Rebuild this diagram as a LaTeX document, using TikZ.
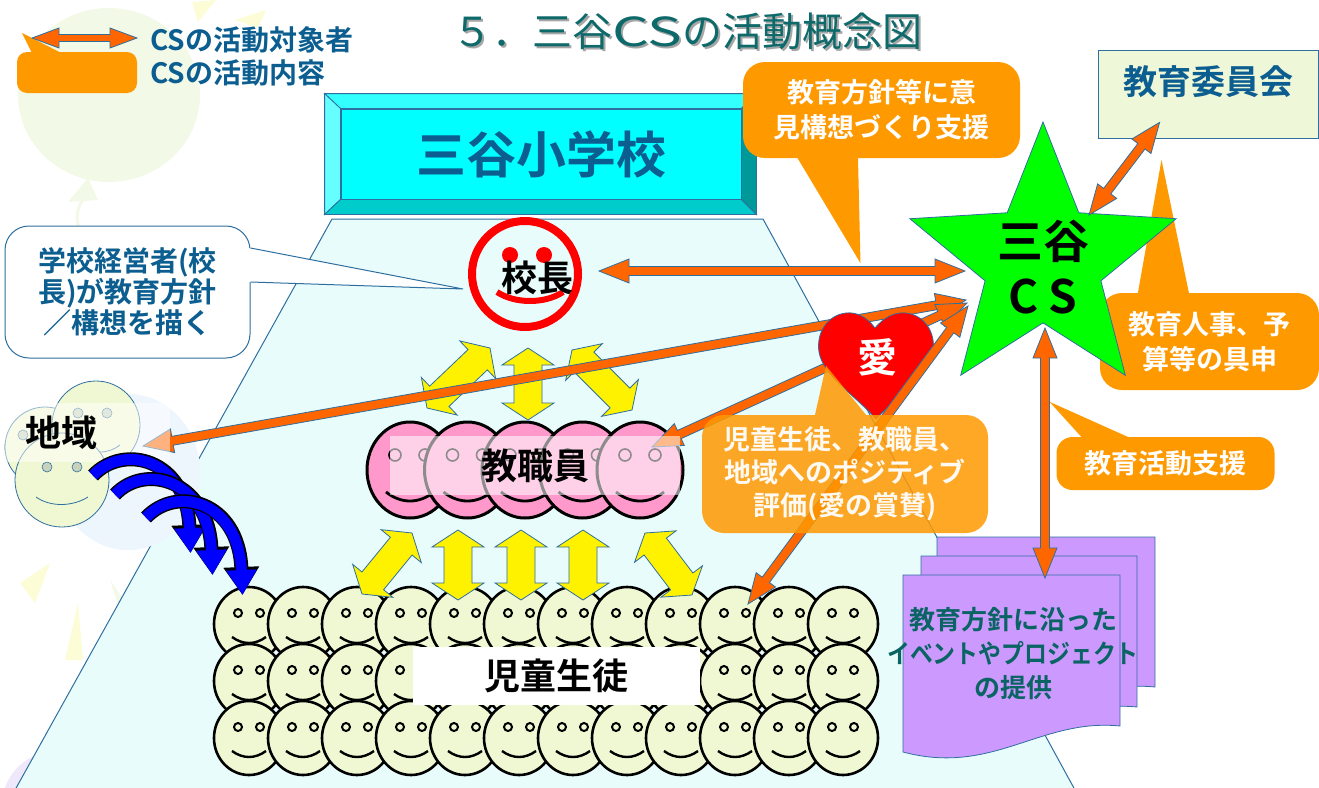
\documentclass[tikz,border=0pt]{standalone}
\usepackage{fontspec}
\setmainfont{Noto Sans CJK JP}[BoldFont={Noto Sans CJK JP Bold}]
\usetikzlibrary{arrows.meta,positioning,calc,shapes.geometric}
\definecolor{csorange}{HTML}{FF6600}
\definecolor{calloutorange}{HTML}{FF9900}
\definecolor{edgeblue}{HTML}{2E6FA0}
\definecolor{inkblue}{HTML}{0B5E8F}
\definecolor{titleteal}{HTML}{0E6A6A}
\definecolor{docteal}{HTML}{0B6464}
\definecolor{floorcyan}{HTML}{E8FCFC}
\definecolor{platecyan}{HTML}{00FFFF}
\definecolor{facegreen}{HTML}{EFF8D2}
\definecolor{facepink}{HTML}{FF99CC}
\definecolor{docviolet}{HTML}{CC99FF}
\definecolor{boardgreen}{HTML}{EEF7D8}
\definecolor{eyegrey}{HTML}{C8D2BC}
\definecolor{paleyellow}{HTML}{FCFCD6}
\definecolor{palegreen}{HTML}{F3F9E7}
\definecolor{palepurple}{HTML}{EEE8FA}
\definecolor{haloblue}{HTML}{EDF5FD}
\tikzset{
  jp/.style 2 args={font=\fontsize{#1}{#2}\selectfont\bfseries, inner sep=0pt},
  blueedge/.style={draw=edgeblue, line width=0.8pt},
  orangearrow/.style={fill=csorange, blueedge, line join=miter},
  yellowarrow/.style={fill=yellow, blueedge},
  orangenote/.style={fill=calloutorange, rounded corners=22pt, text=white, align=center, jp={27}{35}},
  legendtext/.style={text=inkblue, jp={28}{28}, anchor=west},
  docpage/.style={fill=docviolet, blueedge},
  pupil/.pic={
    \draw[fill=facegreen, line width=2.6pt] (0,0) ellipse [x radius=35pt, y radius=37pt];
    \draw[fill=facegreen, line width=2pt] (-11,-11) circle [radius=4pt] (11,-11) circle [radius=4pt];
    \draw[line width=2.4pt] (-17,13) .. controls (-6,21) and (6,21) .. (17,13);
  },
  teacher/.pic={
    \draw[fill=facepink, line width=3pt] (0,0) ellipse [x radius=43pt, y radius=48pt];
    \draw[fill=facepink, line width=1.6pt] (-15,-15) circle [radius=6pt] (15,-15) circle [radius=6pt];
    \draw[line width=2.8pt] (-24,22) .. controls (-9,34) and (9,34) .. (24,22);
  }
}
% block arrow with a head at each end: [style]{from}{to}{shaft half}{head half}{head length}
\newcommand{\fatarrow}[6][]{%
  \coordinate (fa1) at (#2);
  \coordinate (fa2) at (#3);
  \coordinate (fh1) at ($(fa1)!#6!(fa2)$);
  \coordinate (fh2) at ($(fa2)!#6!(fa1)$);
  \draw[#1] (fa1) -- ($(fh1)!#5!90:(fa2)$) -- ($(fh1)!#4!90:(fa2)$)
    -- ($(fh2)!#4!-90:(fa1)$) -- ($(fh2)!#5!-90:(fa1)$) -- (fa2)
    -- ($(fh2)!#5!90:(fa1)$) -- ($(fh2)!#4!90:(fa1)$)
    -- ($(fh1)!#4!-90:(fa2)$) -- ($(fh1)!#5!-90:(fa2)$) -- cycle;
}
\newcommand{\orangelink}[2]{\fatarrow[orangearrow]{#1}{#2}{4.5pt}{12pt}{30pt}}
\newcommand{\yellowlink}[2]{\fatarrow[yellowarrow]{#1}{#2}{14pt}{26pt}{17pt}}

\begin{document}
\begin{tikzpicture}[x=1pt, y=-1pt]
  \useasboundingbox (0,0) rectangle (1319,787);
  \clip (0,0) rectangle (1319,787);

  % faint clip-art in the back
  \fill[palegreen] (109,95) ellipse [x radius=91pt, y radius=87pt];
  \fill[palegreen] (88,178) -- (68,202) -- (98,200) -- cycle;
  \draw[palegreen, line width=3pt] (84,198) .. controls (72,215) and (78,228) .. (84,240);
  \fill[paleyellow] (192,2) -- (216,0) -- (198,22) -- cycle;
  \fill[paleyellow] (235,20) -- (266,10) -- (258,28) -- cycle;
  \fill[paleyellow] (20,583) -- (50,563) -- (35,603) -- cycle;
  \fill[paleyellow] (65,660) -- (78,603) -- (83,660) -- cycle;
  \fill[palegreen] (110,580) -- (140,623) -- (127,633) -- cycle;
  \fill[palepurple] (60,805) ellipse [x radius=58pt, y radius=55pt];

  % school floor
  \fill[floorcyan] (332,219) -- (763,219) -- (1075,790) -- (15,790) -- cycle;
  \draw[edgeblue, line width=1pt] (15,790) -- (332,219) -- (763,219) -- (1075,790);

  % school name plate
  \node[blueedge, fill=platecyan, minimum width=400pt, minimum height=90pt,
    text=inkblue, jp={50}{50}] (school) at (541,154) {三谷小学校};
  \filldraw[fill={rgb,255:red,51;green,255;blue,255}, blueedge]
    ($(school.north west)+(-16,-15)$) -- ($(school.north east)+(15,-15)$)
    -- (school.north east) -- (school.north west) -- cycle;
  \filldraw[fill={rgb,255:red,102;green,255;blue,255}, blueedge]
    ($(school.north west)+(-16,-15)$) -- (school.north west)
    -- (school.south west) -- ($(school.south west)+(-16,15)$) -- cycle;
  \filldraw[fill={rgb,255:red,0;green,204;blue,204}, blueedge]
    (school.south west) -- (school.south east)
    -- ($(school.south east)+(15,15)$) -- ($(school.south west)+(-16,15)$) -- cycle;
  \filldraw[fill={rgb,255:red,0;green,153;blue,153}, blueedge]
    (school.north east) -- ($(school.north east)+(15,-15)$)
    -- ($(school.south east)+(15,15)$) -- (school.south east) -- cycle;

  % principal
  \node[circle, draw=red, line width=8pt, minimum size=106pt, inner sep=0pt] (kocho) at (525,274) {};
  \fill[red] ($(kocho)+(-15,-19)$) circle [radius=8pt] ($(kocho)+(19,-19)$) circle [radius=8pt];
  \draw[red, line width=6pt] ($(kocho)+(-28,18)$) .. controls +(18,12) and +(-18,12) .. ($(kocho)+(38,18)$);
  \node[jp={36}{36}] at ($(kocho)+(12,4)$) {校長};

  % speech bubble of the principal
  \coordinate (visiontip) at ($(kocho)+(-62,15)$);
  \node[blueedge, line width=1pt, fill=white, rounded corners=24pt, minimum width=245pt,
    minimum height=132pt, text=inkblue, align=center, jp={28}{31}] (vision) at (127.5,292)
    {学校経営者(校\\長)が教育方針\\／構想を描く};
  \fill[white] ([xshift=-2pt,yshift=44pt]vision.east) -- (visiontip) -- ([xshift=-2pt,yshift=10pt]vision.east) -- cycle;
  \draw[edgeblue, line width=1pt] ([yshift=44pt]vision.east) -- (visiontip) -- ([yshift=10pt]vision.east);

  % bubble above the principal arrow
  \node[orangenote, minimum width=277pt, minimum height=96pt] (policy) at (881.5,110)
    {教育方針等に意\\見構想づくり支援};
  \coordinate (policytip) at ($(policy.south)+(-21,105)$);
  \fill[calloutorange] ($(policy.south west)+(50,-8)$) -- ($(policy.south west)+(115,-8)$) -- (policytip) -- cycle;

  % local community
  \coordinate (regionmid) at (87.5,432.5);
  \fill[haloblue] (128,472) ellipse [x radius=72pt, y radius=78pt];
  \filldraw[fill=facegreen, blueedge] (45,447) circle [radius=40pt];
  \filldraw[fill=facegreen, blueedge] (96,425) circle [radius=44pt];
  \filldraw[fill=facegreen, blueedge] (62,480) circle [radius=47pt];
  \filldraw[fill=eyegrey, draw=edgeblue, line width=0.6pt] (78,413) circle [radius=5pt] (107,413) circle [radius=5pt]
    (23,435) circle [radius=5pt] (47,467) circle [radius=5pt] (77,467) circle [radius=5pt];
  \draw[edgeblue, line width=0.8pt] (36,497) .. controls (50,507) and (72,507) .. (88,497);
  \draw[edgeblue, line width=0.8pt] (100,452) .. controls (108,452) and (115,449) .. (120,445);

  % teachers
  \foreach \c in {0,...,4} \pic at ({410+57.5*\c},470) {teacher};

  % pupils
  \foreach \r in {0,1,2}{
    \foreach \c in {0,...,11} \pic at ({249+54*\c},{624+57*\r}) {pupil};
  }
  \node[fill=white, minimum width=287pt, minimum height=58pt, jp={36}{36}] (pupils) at (556.5,676) {児童生徒};

  % links among school members
  \coordinate (staff) at (535,465.5);
  \foreach \ax/\ay/\bx/\by in {-45/-117.5/-108/-57.5, -7/-117.5/-7/-45.5, 37/-115.5/97/-55.5,
      -123/67.5/-173/128.5, -77/64.5/-77/134.5, -14/64.5/-14/134.5, 48/64.5/48/134.5, 110/67.5/157/129.5}
    \yellowlink{$(staff)+(\ax,\ay)$}{$(staff)+(\bx,\by)$};

  % board of education
  \node[blueedge, fill=boardgreen, minimum width=220pt, minimum height=88pt, inner sep=0pt] (board) at (1208,94) {};
  \node[text=inkblue, jp={34}{34}, below=16pt of board.north] {教育委員会};

  % bubbles on the right
  \node[orangenote, minimum width=219pt, minimum height=97pt] (finance) at (1209.5,341.5)
    {教育人事、予\\算等の具申};
  \fill[calloutorange] ($(finance.north)+(-73,8)$) -- ($(finance.north)+(-48,-133)$) -- ($(finance.north)+(-19,8)$) -- cycle;
  \node[orangenote, rounded corners=16pt, minimum width=218pt, minimum height=53pt] (support) at (1165.5,463.5)
    {教育活動支援};
  \fill[calloutorange] ($(support.north)+(-77,8)$) -- ($(support.north)+(-116,-35)$) -- ($(support.north)+(-20,8)$) -- cycle;

  % community school
  \node[star, star points=5, star point ratio=2.3, minimum size=280pt, inner sep=0pt,
    fill=green, blueedge] (cs) at (1043,262) {};
  \node[jp={46}{55}, align=center] at ($(cs)+(0,5)$) {三谷\\C S};

  % links from the community school
  \orangelink{$(regionmid)+(55.5,13.5)$}{$(cs)+(-77,38)$}
  \orangelink{$(staff)+(117,-18.5)$}{$(cs)+(-76,41)$}

  \node[fill=white, fill opacity=.5, minimum width=165pt, minimum height=59pt, inner sep=0pt] (regionbox) at (regionmid) {};
  \node[jp={36}{36}, right=20pt of regionbox.west] (region) {地域};
  \node[fill=white, fill opacity=.55, text opacity=1, minimum width=290pt, minimum height=59pt,
    jp={36}{36}] (staffbox) at (staff) {教職員};

  % love
  \filldraw[fill=red, blueedge] (875,328) .. controls (866,316) and (856,312) .. (846,313)
    .. controls (828,315) and (816,332) .. (819,352) .. controls (823,376) and (856,396) .. (876,419)
    .. controls (897,396) and (929,376) .. (933,352) .. controls (936,332) and (924,315) .. (906,313)
    .. controls (896,312) and (885,316) .. (875,328) -- cycle;
  \node[text=white, jp={40}{40}] (ai) at (877,357) {愛};

  \orangelink{$(pupils)+(191.5,-72)$}{$(cs)+(-75,44)$}

  \node[orangenote, fill opacity=.85, text opacity=.95, jp={27}{33}, minimum width=286pt, minimum height=118pt]
    (praise) at (845,474) {児童生徒、教職員、\\地域へのポジティブ\\評価(愛の賞賛)};
  \fill[calloutorange, opacity=.85] ($(praise.north)+(-30,0)$) -- ($(praise.north)+(-19,-49)$) -- ($(praise.north)+(21,0)$) -- cycle;

  \orangelink{$(kocho.east)+(17,-3)$}{$(cs)+(-78,9)$}
  \orangelink{$(cs)+(46,-47)$}{$(board.south west)+(62,-16)$}

  % events and projects
  \filldraw[docpage] (937,537) -- (1155,537) -- (1155,687) .. controls +(-80,-8) and +(90,24) .. (937,713) -- cycle;
  \filldraw[docpage] (921,556) -- (1137,556) -- (1137,707) .. controls +(-80,-8) and +(90,24) .. (921,733) -- cycle;
  \filldraw[docpage] (903,575) -- (1120,575) -- (1120,726) .. controls +(-80,-8) and +(90,24) .. (903,752) -- cycle;
  \node[text=docteal, jp={26}{34}, align=center] (events) at (1013,654)
    {教育方針に沿った\\\scalebox{0.88}[1]{イベントやプロジェクト}\\の提供};
  \orangelink{$(cs)+(2,66)$}{$(events)+(32,-76)$}

  % community reaching the pupils
  \foreach \dx/\dy/\ex/\ey in {32/43/-366/-123, 54/62/-344/-101, 85/85/-314/-81}{
    \draw[line width=14pt, black, -{Triangle[length=28pt,width=34pt]}]
      ($(region)+(\dx,\dy)$) .. controls +(30,-32) and +(-4,-95) .. ($(pupils)+(\ex,\ey)$);
    \draw[line width=11pt, blue, -{Triangle[length=25pt,width=29pt]}]
      ($(region)+(\dx,\dy)$) .. controls +(30,-32) and +(-4,-95) .. ($(pupils)+(\ex,\ey)$);
  }

  % legend
  \node[fill=calloutorange, rounded corners=10pt, minimum width=120pt, minimum height=41pt, inner sep=0pt]
    (legbox) at (77,72.5) {};
  \fill[calloutorange] ($(legbox.north west)+(5,-19)$) -- ($(legbox.north west)+(16,3)$) -- ($(legbox.north west)+(48,3)$) -- cycle;
  \node[legendtext] (legtarget) at (150,40) {CSの活動対象者};
  \node[legendtext, right=13pt of legbox.east] (legcontent) {CSの活動内容};
  \fatarrow[orangearrow]{$(legtarget.west)+(-118,-2)$}{$(legtarget.west)+(-13,-2)$}{3.5pt}{10pt}{27pt}

  % title
  \node[font=\fontsize{40}{40}\selectfont, inner sep=0pt, text=black!35] at (689,33)
    {５．三谷\scalebox{1.45}[1]{CS}の活動概念図};
  \node[font=\fontsize{40}{40}\selectfont, inner sep=0pt, text=titleteal] (title) at (687,31)
    {５．三谷\scalebox{1.45}[1]{CS}の活動概念図};
\end{tikzpicture}
\end{document}
